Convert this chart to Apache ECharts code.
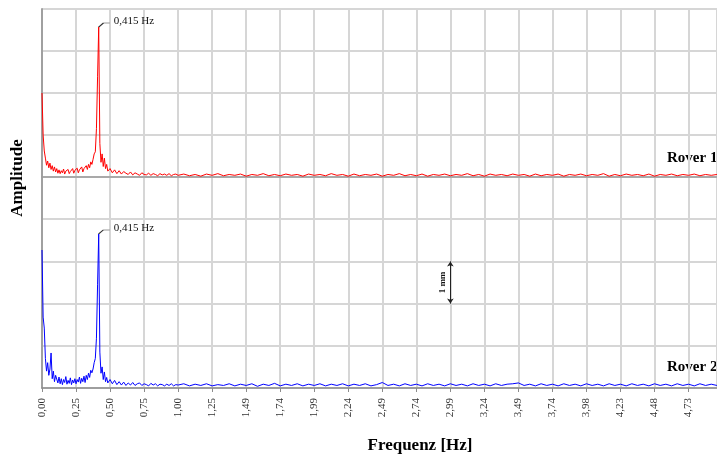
<!DOCTYPE html>
<html>
<head>
<meta charset="utf-8">
<script src="https://cdn.jsdelivr.net/npm/echarts@6/dist/echarts.min.js"></script>
<style>html,body{margin:0;padding:0;background:#fff;}#c{width:717px;height:456px;}</style>
</head>
<body>
<div id="c"></div>
<script>
// Frequency bins [Hz]
const freq = [
0, 0.0083, 0.0166, 0.0249, 0.0332, 0.0415, 0.0498, 0.0581, 0.0664, 0.0747, 0.083, 0.0913, 0.0996,
0.1079, 0.1162, 0.1245, 0.1328, 0.1411, 0.1494, 0.1577, 0.166, 0.1743, 0.1826, 0.1909, 0.1992, 0.2075, 0.2158, 0.2241, 0.2324,
0.2407, 0.249, 0.2573, 0.2656, 0.2739, 0.2822, 0.2905, 0.2988, 0.3071, 0.3154, 0.3237, 0.332, 0.3403, 0.3486, 0.3569, 0.3652,
0.3735, 0.3818, 0.3901, 0.3984, 0.4067, 0.415, 0.4233, 0.4316, 0.4399, 0.4482, 0.4565, 0.4648, 0.4731, 0.4814,
0.498, 0.5146, 0.5312, 0.5478, 0.5644, 0.581, 0.5976, 0.6142, 0.6308, 0.6474, 0.664, 0.6806, 0.6972, 0.7138, 0.7304, 0.747,
0.7636, 0.7802, 0.7968, 0.8134, 0.83, 0.8466, 0.8632, 0.8798, 0.8964, 0.913, 0.9296, 0.9462, 0.9628, 0.9794, 0.996,
1.0375, 1.079, 1.1205, 1.162, 1.2035, 1.245, 1.2865, 1.328, 1.3695, 1.411, 1.4525, 1.494, 1.5355, 1.577, 1.6185, 1.66,
1.7015, 1.743, 1.7845, 1.826, 1.8675, 1.909, 1.9505, 1.992, 2.0335, 2.075, 2.1165, 2.158, 2.1995, 2.241, 2.2825, 2.324,
2.3655, 2.407, 2.4485, 2.49, 2.5315, 2.573, 2.6145, 2.656, 2.6975, 2.739, 2.7805, 2.822, 2.8635, 2.905, 2.9465, 2.988,
3.0295, 3.071, 3.1125, 3.154, 3.1955, 3.237, 3.2785, 3.32, 3.3615, 3.403, 3.4445, 3.486, 3.5275, 3.569, 3.6105, 3.652,
3.6935, 3.735, 3.7765, 3.818, 3.8595, 3.901, 3.9425, 3.984, 4.0255, 4.067, 4.1085, 4.15, 4.1915, 4.233, 4.2745, 4.316,
4.3575, 4.399, 4.4405, 4.482, 4.5235, 4.565, 4.6065, 4.648, 4.6895, 4.731, 4.7725, 4.814, 4.8555, 4.897, 4.9385
];

// Amplitude [mm] Rover 1
const rover1 = [
2.0, 1.0, 0.62, 0.45, 0.28, 0.38, 0.22, 0.33, 0.18, 0.27, 0.14, 0.24, 0.12,
0.2, 0.09, 0.17, 0.08, 0.15, 0.1, 0.19, 0.07, 0.14, 0.11, 0.18, 0.08, 0.13, 0.1, 0.2, 0.09,
0.16, 0.12, 0.21, 0.1, 0.17, 0.13, 0.24, 0.12, 0.2, 0.16, 0.27, 0.18, 0.3, 0.22, 0.36, 0.3,
0.42, 0.55, 0.6, 1.15, 2.4, 3.57, 0.8, 0.35, 0.55, 0.25, 0.45, 0.2, 0.3, 0.14,
0.2, 0.1, 0.17, 0.08, 0.15, 0.07, 0.13, 0.09, 0.06, 0.12, 0.05, 0.1, 0.07, 0.04, 0.1, 0.06,
0.05, 0.09, 0.04, 0.08, 0.06, 0.03, 0.08, 0.05, 0.07, 0.04, 0.08, 0.03, 0.06, 0.07, 0.04,
0.07, 0.03, 0.06, 0.02, 0.07, 0.04, 0.08, 0.03, 0.06, 0.04,
0.07, 0.02, 0.06, 0.04, 0.08, 0.03, 0.06, 0.03, 0.07, 0.04,
0.06, 0.02, 0.07, 0.04, 0.06, 0.03, 0.08, 0.04, 0.06, 0.02,
0.07, 0.03, 0.06, 0.04, 0.07, 0.02, 0.06, 0.04, 0.08, 0.03,
0.06, 0.03, 0.07, 0.02, 0.06, 0.04, 0.07, 0.03, 0.06, 0.04,
0.08, 0.03, 0.06, 0.02, 0.07, 0.04, 0.06, 0.03, 0.07, 0.04,
0.06, 0.02, 0.07, 0.03, 0.06, 0.04, 0.07, 0.02, 0.06, 0.04,
0.07, 0.03, 0.06, 0.04, 0.08, 0.02, 0.06, 0.03, 0.07, 0.04,
0.06, 0.03, 0.07, 0.02, 0.06, 0.04, 0.07, 0.03, 0.06, 0.04,
0.07, 0.03, 0.06, 0.04, 0.06
];

// Amplitude [mm] Rover 2
const rover2 = [
3.27, 1.68, 1.42, 0.7, 0.4, 0.6, 0.3, 0.45, 0.83, 0.22, 0.4, 0.15, 0.3,
0.32, 0.12, 0.26, 0.1, 0.22, 0.08, 0.2, 0.13, 0.27, 0.09, 0.18, 0.11, 0.24, 0.08, 0.19, 0.12,
0.22, 0.1, 0.2, 0.14, 0.26, 0.11, 0.23, 0.15, 0.28, 0.13, 0.3, 0.2, 0.35, 0.25, 0.42, 0.36,
0.45, 0.6, 0.7, 1.18, 2.46, 3.65, 0.85, 0.35, 0.5, 0.2, 0.38, 0.15, 0.25, 0.12,
0.2, 0.1, 0.18, 0.08, 0.15, 0.07, 0.14, 0.06, 0.12, 0.07, 0.13, 0.06, 0.1, 0.12, 0.06, 0.1,
0.08, 0.05, 0.11, 0.07, 0.1, 0.05, 0.09, 0.08, 0.05, 0.09, 0.06, 0.1, 0.05, 0.08, 0.07,
0.1, 0.05, 0.09, 0.06, 0.1, 0.05, 0.08, 0.06, 0.1, 0.05,
0.09, 0.06, 0.1, 0.04, 0.09, 0.06, 0.11, 0.05, 0.09, 0.06,
0.1, 0.05, 0.09, 0.06, 0.1, 0.05, 0.09, 0.06, 0.1, 0.05,
0.09, 0.06, 0.1, 0.05, 0.08, 0.13, 0.06, 0.09, 0.05, 0.1,
0.06, 0.09, 0.05, 0.1, 0.06, 0.09, 0.05, 0.1, 0.06, 0.09,
0.05, 0.1, 0.06, 0.09, 0.05, 0.1, 0.06, 0.09, 0.1, 0.12,
0.06, 0.09, 0.05, 0.1, 0.06, 0.09, 0.05, 0.1, 0.06, 0.09,
0.05, 0.1, 0.06, 0.09, 0.05, 0.1, 0.06, 0.09, 0.05, 0.1,
0.06, 0.09, 0.05, 0.1, 0.06, 0.09, 0.05, 0.1, 0.06, 0.09,
0.05, 0.1, 0.06, 0.09, 0.06
];

// X tick labels (every 30 bins = 0.249 Hz)
const tickStep = 0.249;
const tickLabels = ['0,00','0,25','0,50','0,75','1,00','1,25','1,49','1,74','1,99','2,24',
  '2,49','2,74','2,99','3,24','3,49','3,74','3,98','4,23','4,48','4,73'];
const peakLabel = '0,415 Hz';
const scaleBarFreq = 2.988;
const scaleBarRange = [2, 3];
const seriesNames = ['Rover 1', 'Rover 2'];

const serif = '"Liberation Serif", "Times New Roman", serif';
const gridCol = '#d6d6d6';

function fmtTick(v) {
  const i = Math.round(v / tickStep);
  if (Math.abs(v - i * tickStep) > 1e-6) return '';
  return tickLabels[i] || '';
}

const peakMark = {
  symbol: 'path://M0 10 L5 1 L12 1',
  symbolSize: [11, 4],
  symbolOffset: [5.5, -2],
  itemStyle: { color: 'none', borderColor: '#333', borderWidth: 1 },
  label: {
    show: true, position: 'right', distance: 0, offset: [0, -4],
    formatter: peakLabel, color: '#111',
    fontFamily: serif, fontSize: 11
  },
  data: [{ type: 'max' }]
};

const chart = echarts.init(document.getElementById('c'), null, { renderer: 'canvas' });
const xBase = {
  type: 'value', min: 0, max: 4.939, interval: tickStep,
  splitLine: { show: true, lineStyle: { color: gridCol, width: 2 } }
};
chart.setOption({
  animation: false,
  backgroundColor: '#fff',
  grid: [
    { left: 42, right: -3, top: 9, height: 168, show: true, borderColor: '#b4b4b4', borderWidth: 1, backgroundColor: 'transparent' },
    { left: 42, right: -3, top: 177, height: 211 }
  ],
  xAxis: [
    Object.assign({}, xBase, {
      gridIndex: 0,
      axisLine: { show: true, lineStyle: { color: '#9a9a9a', width: 1.5 } },
      axisTick: { show: false }, axisLabel: { show: false }
    }),
    Object.assign({}, xBase, {
      gridIndex: 1,
      axisLine: { show: true, lineStyle: { color: '#8c8c8c', width: 1.5 } },
      axisTick: { show: true, length: 4, lineStyle: { color: '#8c8c8c' } },
      axisLabel: {
        show: true, rotate: 90, margin: 10, formatter: fmtTick,
        fontFamily: serif, fontSize: 11, color: '#333',
        showMaxLabel: false
      }
    })
  ],
  yAxis: [
    { type: 'value', gridIndex: 0, min: 0, max: 4, interval: 1,
      axisLine: { show: true, lineStyle: { color: '#a0a0a0', width: 2 } },
      axisTick: { show: false }, axisLabel: { show: false },
      splitLine: { show: true, lineStyle: { color: gridCol, width: 2 } } },
    { type: 'value', gridIndex: 1, min: 0, max: 5, interval: 1,
      axisLine: { show: true, lineStyle: { color: '#a0a0a0', width: 2 } },
      axisTick: { show: false }, axisLabel: { show: false },
      splitLine: { show: true, lineStyle: { color: gridCol, width: 2 } } }
  ],
  series: [
    {
      name: seriesNames[0], type: 'line', xAxisIndex: 0, yAxisIndex: 0,
      data: freq.map((f, i) => [f, rover1[i]]),
      showSymbol: false, symbol: 'none', z: 5,
      lineStyle: { color: '#ff0000', width: 1 },
      markPoint: peakMark
    },
    {
      name: seriesNames[1], type: 'line', xAxisIndex: 1, yAxisIndex: 1,
      data: freq.map((f, i) => [f, rover2[i]]),
      showSymbol: false, symbol: 'none', z: 5,
      lineStyle: { color: '#0000ff', width: 1 },
      markPoint: peakMark,
      markLine: {
        silent: true, symbol: ['arrow', 'arrow'], symbolSize: [5, 5],
        lineStyle: { color: '#222', width: 1, type: 'solid' },
        label: { show: true, position: 'middle', formatter: '1 mm', distance: 3,
          fontFamily: serif, fontSize: 9, fontWeight: 'bold', color: '#111' },
        data: [[{ coord: [scaleBarFreq, scaleBarRange[0]] }, { coord: [scaleBarFreq, scaleBarRange[1]] }]]
      }
    }
  ],
  graphic: [
    { type: 'text', x: 18, y: 178, rotation: Math.PI / 2,
      style: { text: 'Amplitude', textAlign: 'center', textVerticalAlign: 'middle',
        font: 'bold 17px ' + serif, fill: '#000' } },
    { type: 'text', x: 420, y: 446,
      style: { text: 'Frequenz [Hz]', textAlign: 'center', textVerticalAlign: 'middle',
        font: 'bold 17px ' + serif, fill: '#000' } },
    { type: 'text', x: 667, y: 158,
      style: { text: seriesNames[0], textAlign: 'left', textVerticalAlign: 'middle',
        font: 'bold 15px ' + serif, fill: '#000' } },
    { type: 'text', x: 667, y: 367,
      style: { text: seriesNames[1], textAlign: 'left', textVerticalAlign: 'middle',
        font: 'bold 15px ' + serif, fill: '#000' } }
  ]
});
</script>
</body>
</html>
